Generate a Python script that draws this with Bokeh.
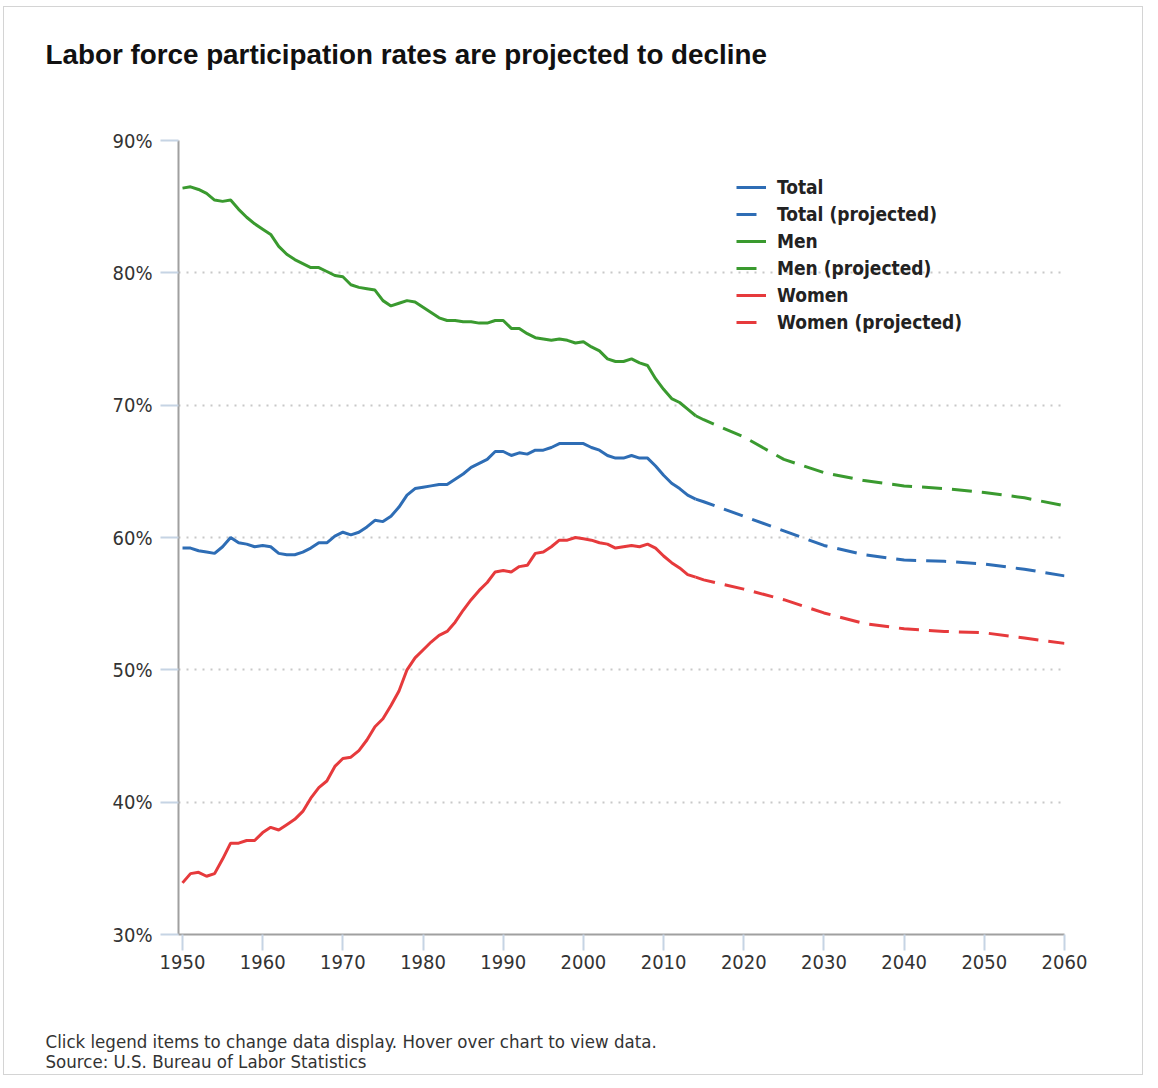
from bokeh.plotting import figure
from bokeh.models import (Range1d, FixedTicker, PrintfTickFormatter, Legend, LegendItem, Title)
from bokeh.embed import file_html
from bokeh.resources import INLINE

# ---- data ----
years = list(range(1950, 2015))
total = [59.2, 59.2, 59.0, 58.9, 58.8, 59.3, 60.0, 59.6, 59.5, 59.3,
         59.4, 59.3, 58.8, 58.7, 58.7, 58.9, 59.2, 59.6, 59.6, 60.1,
         60.4, 60.2, 60.4, 60.8, 61.3, 61.2, 61.6, 62.3, 63.2, 63.7,
         63.8, 63.9, 64.0, 64.0, 64.4, 64.8, 65.3, 65.6, 65.9, 66.5,
         66.5, 66.2, 66.4, 66.3, 66.6, 66.6, 66.8, 67.1, 67.1, 67.1,
         67.1, 66.8, 66.6, 66.2, 66.0, 66.0, 66.2, 66.0, 66.0, 65.4,
         64.7, 64.1, 63.7, 63.2, 62.9]
men = [86.4, 86.5, 86.3, 86.0, 85.5, 85.4, 85.5, 84.8, 84.2, 83.7,
       83.3, 82.9, 82.0, 81.4, 81.0, 80.7, 80.4, 80.4, 80.1, 79.8,
       79.7, 79.1, 78.9, 78.8, 78.7, 77.9, 77.5, 77.7, 77.9, 77.8,
       77.4, 77.0, 76.6, 76.4, 76.4, 76.3, 76.3, 76.2, 76.2, 76.4,
       76.4, 75.8, 75.8, 75.4, 75.1, 75.0, 74.9, 75.0, 74.9, 74.7,
       74.8, 74.4, 74.1, 73.5, 73.3, 73.3, 73.5, 73.2, 73.0, 72.0,
       71.2, 70.5, 70.2, 69.7, 69.2]
women = [33.9, 34.6, 34.7, 34.4, 34.6, 35.7, 36.9, 36.9, 37.1, 37.1,
         37.7, 38.1, 37.9, 38.3, 38.7, 39.3, 40.3, 41.1, 41.6, 42.7,
         43.3, 43.4, 43.9, 44.7, 45.7, 46.3, 47.3, 48.4, 50.0, 50.9,
         51.5, 52.1, 52.6, 52.9, 53.6, 54.5, 55.3, 56.0, 56.6, 57.4,
         57.5, 57.4, 57.8, 57.9, 58.8, 58.9, 59.3, 59.8, 59.8, 60.0,
         59.9, 59.8, 59.6, 59.5, 59.2, 59.3, 59.4, 59.3, 59.5, 59.2,
         58.6, 58.1, 57.7, 57.2, 57.0]

proj_years = [2014, 2015, 2020, 2025, 2030, 2035, 2040, 2045, 2050, 2055, 2060]
total_proj = [62.9, 62.7, 61.6, 60.5, 59.4, 58.7, 58.3, 58.2, 58.0, 57.6, 57.1]
men_proj = [69.2, 68.9, 67.6, 65.9, 64.9, 64.3, 63.9, 63.7, 63.4, 63.0, 62.4]
women_proj = [57.0, 56.8, 56.1, 55.3, 54.3, 53.5, 53.1, 52.9, 52.8, 52.4, 52.0]

x_ticks = list(range(1950, 2061, 10))
y_ticks = [30, 40, 50, 60, 70, 80, 90]

title_text = "Labor force participation rates are projected to decline"
footer_1 = "Click legend items to change data display. Hover over chart to view data."
footer_2 = "Source: U.S. Bureau of Labor Statistics"

BLUE = "#2e6db5"
GREEN = "#3a9a2f"
RED = "#e63a3c"
TICK_FONT = "DejaVu Sans Condensed, DejaVu Sans"

W, H = 1140, 1069
p = figure(width=W, height=H, output_backend="svg", toolbar_location=None,
           x_range=Range1d(1949.5, 2060), y_range=Range1d(30, 90),
           min_border_left=174, min_border_right=80, min_border_top=133,
           min_border_bottom=142)
p.margin = (6, 0, 0, 3)
p.styles = {"border": "1px solid #d4d4d4"}
p.outline_line_color = None
p.background_fill_color = "white"
p.border_fill_color = "white"

# axes
p.xaxis.ticker = FixedTicker(ticks=x_ticks)
p.yaxis.ticker = FixedTicker(ticks=y_ticks)
p.yaxis.formatter = PrintfTickFormatter(format="%d%%")
for ax in (p.xaxis[0], p.yaxis[0]):
    ax.axis_line_color = "#a0a0a0"
    ax.axis_line_width = 2
    ax.major_tick_line_color = "#c6d4e4"
    ax.major_tick_line_width = 2
    ax.major_tick_in = 0
    ax.minor_tick_line_color = None
    ax.major_label_text_font = TICK_FONT
    ax.major_label_text_font_size = "20px"
    ax.major_label_text_color = "#333333"
p.yaxis.major_tick_out = 18
p.yaxis.major_label_standoff = 8
p.xaxis.major_tick_out = 16
p.xaxis.major_label_standoff = 4

p.xgrid.grid_line_color = None
p.ygrid.ticker = FixedTicker(ticks=y_ticks)
p.ygrid.grid_line_color = "#c8c8c8"
p.ygrid.grid_line_width = 2
p.ygrid.grid_line_dash = "2 6"

# lines
r_t = p.line(years, total, line_color=BLUE, line_width=3)
r_tp = p.line(proj_years, total_proj, line_color=BLUE, line_width=3, line_dash="20 10")
r_m = p.line(years, men, line_color=GREEN, line_width=3)
r_mp = p.line(proj_years, men_proj, line_color=GREEN, line_width=3, line_dash="20 10")
r_w = p.line(years, women, line_color=RED, line_width=3)
r_wp = p.line(proj_years, women_proj, line_color=RED, line_width=3, line_dash="20 10")

legend = Legend(items=[
    LegendItem(label="Total", renderers=[r_t]),
    LegendItem(label="Total (projected)", renderers=[r_tp]),
    LegendItem(label="Men", renderers=[r_m]),
    LegendItem(label="Men (projected)", renderers=[r_mp]),
    LegendItem(label="Women", renderers=[r_w]),
    LegendItem(label="Women (projected)", renderers=[r_wp]),
], location=(558, 601))
legend.border_line_color = None
legend.background_fill_alpha = 0
legend.padding = 0
legend.margin = 0
legend.spacing = 5
legend.label_height = 22
legend.glyph_height = 22
legend.glyph_width = 30
legend.label_standoff = 11
legend.label_text_font = TICK_FONT
legend.label_text_font_style = "bold"
legend.label_text_font_size = "19px"
legend.label_text_color = "#222222"
p.add_layout(legend, "center")

# title (above) and footer (below); blank lines push the text away from the frame
p.add_layout(Title(text=title_text + "\n\n", align="left", offset=-133, standoff=0,
                   vertical_align="bottom", text_line_height=1.14,
                   text_font="Liberation Sans", text_font_style="bold",
                   text_font_size="27.8px", text_color="#111111"), "above")
p.add_layout(Title(text="\n\n\n" + footer_1 + "\n" + footer_2, align="left", offset=-133,
                   standoff=0, vertical_align="top", text_line_height=0.946,
                   text_font=TICK_FONT, text_font_style="normal",
                   text_font_size="18.5px", text_color="#333333"), "below")

open("out.html", "w").write(file_html(p, INLINE))
